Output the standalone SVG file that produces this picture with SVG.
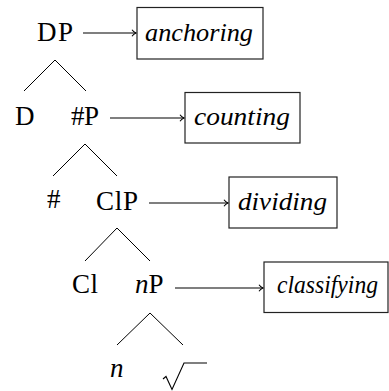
<svg xmlns="http://www.w3.org/2000/svg" width="389" height="391" viewBox="0 0 389 391">
<defs>
<style>
text{font-family:'Liberation Serif','Times New Roman',serif;fill:#000}
.t{font-size:27px}
.i{font-size:26px;font-style:italic}
.box{fill:#fff;stroke:#222;stroke-width:1.2}
.br{stroke:#000;stroke-width:1;fill:none}
.ar{stroke:#000;stroke-width:1.1;fill:none}
</style>
<marker id="tip" markerWidth="8" markerHeight="8" refX="5" refY="4" orient="auto" markerUnits="userSpaceOnUse">
<path d="M1,0.8 Q2.5,3 5,4 Q2.5,5 1,7.2" fill="none" stroke="#000" stroke-width="1.1"/>
</marker>
</defs>
<rect width="389" height="391" fill="#fff"/>
<g id="tree-lines">
<path class="br" d="M24,91 L55,60 L86,91"/>
<path class="br" d="M53,176 L85,144 L117,176"/>
<path class="br" d="M85,261 L117,228 L150,261"/>
<path class="br" d="M117,345 L150,313 L183,345"/>
</g>
<g id="connectors">
<line class="ar" x1="83" y1="33" x2="136" y2="33" marker-end="url(#tip)"/>
<line class="ar" x1="110" y1="118" x2="184" y2="118" marker-end="url(#tip)"/>
<line class="ar" x1="149" y1="203" x2="228" y2="203" marker-end="url(#tip)"/>
<line class="ar" x1="175" y1="288" x2="263" y2="288" marker-end="url(#tip)"/>
</g>
<g id="DP"><text class="t" x="37" y="41" textLength="36">DP</text></g>
<g id="D"><text class="t" x="15" y="125" textLength="18">D</text></g>
<g id="NumP"><text class="t" x="71" y="125" textLength="28">#P</text></g>
<g id="Num"><text class="t" x="47" y="208" textLength="13">#</text></g>
<g id="ClP"><text class="t" x="96" y="210" textLength="42">ClP</text></g>
<g id="Cl"><text class="t" x="72" y="293" textLength="26">Cl</text></g>
<g id="nP"><text class="t" x="135" y="293"><tspan font-style="italic">n</tspan>P</text></g>
<g id="n"><text class="t" x="110" y="377" font-style="italic">n</text></g>
<g id="root">
<path d="M163,379 L166,376.5 L172,389.5 L184,363 L207,363" fill="none" stroke="#000" stroke-width="1.1"/>
</g>
<g id="anchoring">
<rect class="box" x="137" y="7.5" width="126" height="51.5"/>
<text class="i" x="145" y="41" textLength="108" lengthAdjust="spacingAndGlyphs">anchoring</text>
</g>
<g id="counting">
<rect class="box" x="185" y="92.5" width="115" height="50.5"/>
<text class="i" x="194" y="125" textLength="96" lengthAdjust="spacingAndGlyphs">counting</text>
</g>
<g id="dividing">
<rect class="box" x="229" y="177" width="108" height="51"/>
<text class="i" x="238" y="210" textLength="89" lengthAdjust="spacingAndGlyphs">dividing</text>
</g>
<g id="classifying">
<rect class="box" x="264" y="262" width="124" height="50.5"/>
<text class="i" x="277" y="293" textLength="101" lengthAdjust="spacingAndGlyphs">classifying</text>
</g>
</svg>
